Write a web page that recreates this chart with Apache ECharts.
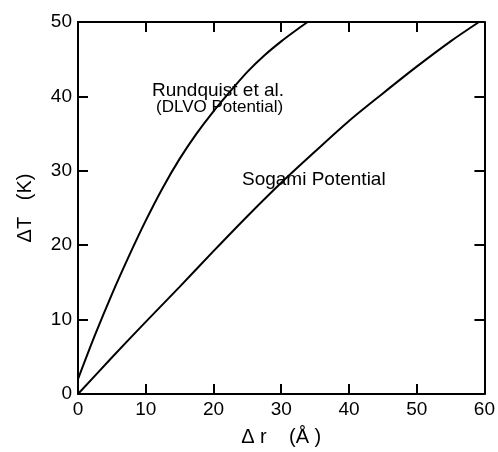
<!DOCTYPE html>
<html>
<head>
<meta charset="utf-8">
<script src="https://cdn.jsdelivr.net/npm/echarts@6/dist/echarts.min.js"></script>
<style>
  html, body { margin: 0; padding: 0; background: #fff; }
  #main { width: 498px; height: 452px; }
</style>
</head>
<body>
<div id="main"></div>
<script>
// curves: [dr (A), dT (K)]
var rundquist = [[0, 2], [2.5, 7.9], [5, 13.4], [7.5, 18.5], [10, 23.3], [12.5, 27.7],
  [15, 31.6], [17.5, 35.0], [20, 38.0], [22.5, 40.7], [25, 43.3], [27.5, 45.5],
  [30, 47.4], [32.5, 49.1], [33.9, 50]];
var sogami = [[0, 0], [5, 4.9], [10, 9.7], [15, 14.4], [20, 19.2], [25, 23.9], [30, 28.4],
  [35, 32.6], [40, 36.7], [45, 40.4], [50, 44.0], [55, 47.4], [59.2, 50]];

var font = 'Liberation Sans, Arial, Helvetica, sans-serif';
var myChart = echarts.init(document.getElementById('main'));

var frameAxis = function (show) {
  return {
    axisLine: { show: true, onZero: false, lineStyle: { color: '#000', width: 2 } },
    axisTick: { show: true, inside: true, length: 10, lineStyle: { color: '#000', width: 2 } },
    axisLabel: { show: show, color: '#000', fontSize: 19, fontFamily: font, margin: 6 },
    splitLine: { show: false }
  };
};

option = {
  animation: false,
  grid: { left: 78, right: 12, top: 22, bottom: 55 },
  xAxis: [
    Object.assign({
      type: 'value', min: 0, max: 60, interval: 10, position: 'bottom',
      name: 'Δ r    (Å )', nameLocation: 'middle', nameGap: 33,
      nameTextStyle: { color: '#000', fontSize: 20, fontFamily: font }
    }, frameAxis(true)),
    Object.assign({ type: 'value', min: 0, max: 60, interval: 10, position: 'top' }, frameAxis(false))
  ],
  yAxis: [
    Object.assign({
      type: 'value', min: 0, max: 50, interval: 10, position: 'left',
      name: 'ΔT   (K)', nameLocation: 'middle', nameGap: 43, nameRotate: 90,
      nameTextStyle: { color: '#000', fontSize: 20, fontFamily: font }
    }, frameAxis(true)),
    Object.assign({ type: 'value', min: 0, max: 50, interval: 10, position: 'right' }, frameAxis(false))
  ],
  series: [{
    name: 'Rundquist', type: 'line', smooth: 0.3, symbol: 'none',
    lineStyle: { color: '#000', width: 2 }, data: rundquist
  }, {
    name: 'Sogami', type: 'line', smooth: 0.3, symbol: 'none',
    lineStyle: { color: '#000', width: 2 }, data: sogami
  }],
  graphic: [
    { type: 'text', left: 152, top: 81, style: { text: 'Rundquist et al.', fill: '#000', font: '19px ' + font } },
    { type: 'text', left: 156, top: 99, style: { text: '(DLVO Potential)', fill: '#000', font: '17px ' + font } },
    { type: 'text', left: 242, top: 170, style: { text: 'Sogami Potential', fill: '#000', font: '19px ' + font } }
  ]
};

myChart.setOption(option);
</script>
</body>
</html>
